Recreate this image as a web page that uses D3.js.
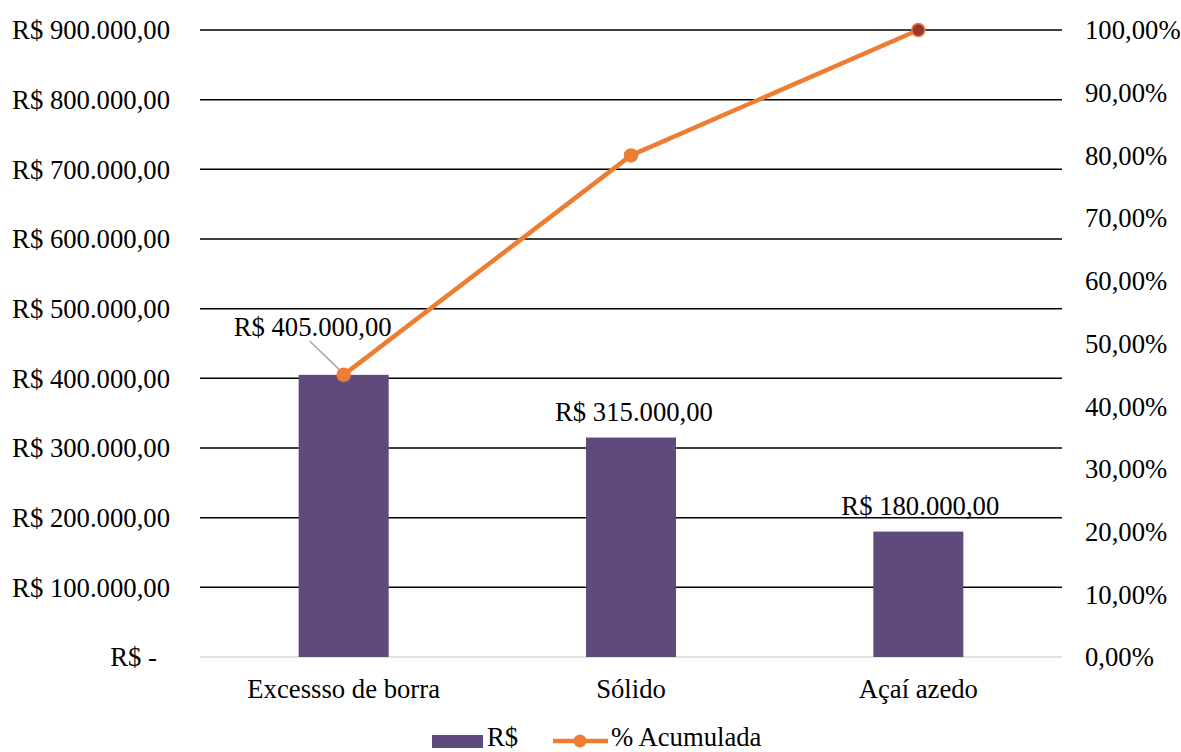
<!DOCTYPE html>
<html>
<head>
<meta charset="utf-8">
<script src="https://cdn.jsdelivr.net/npm/d3@7"></script>
<style>
  html, body { margin: 0; padding: 0; background: #fff; }
  svg text { font-family: "Liberation Serif", "Times New Roman", serif; fill: #000; }
</style>
</head>
<body>
<svg id="chart" width="1181" height="752"></svg>
<script>
// Pareto data
const categories = ["Excessso de borra", "Sólido", "Açaí azedo"];
const values = [405000, 315000, 180000];
const cumulative = [0.45, 0.80, 1.00];
const leftTicks = [0, 100000, 200000, 300000, 400000, 500000, 600000, 700000, 800000, 900000];
const rightTicks = [0, 0.1, 0.2, 0.3, 0.4, 0.5, 0.6, 0.7, 0.8, 0.9, 1.0];
const seriesNames = ["R$", "% Acumulada"];

const svg = d3.select("#chart");
const m = { left: 200, right: 1062, top: 30, bottom: 657 };

const x = d3.scaleBand().domain(categories).range([m.left, m.right]).paddingInner(0).paddingOuter(0);
const yL = d3.scaleLinear().domain([0, 900000]).range([m.bottom, m.top]);
const yR = d3.scaleLinear().domain([0, 1]).range([m.bottom, m.top]);

const barColor = "#604A7B";
const lineColor = "#ED7D31";
const fontSize = 26.7;

const locale = d3.formatLocale({ decimal: ",", thousands: ".", grouping: [3], currency: ["R$ ", ""] });
const fmtNum = locale.format(",.2f");
const fmtMoney = v => v === 0 ? "R$ -" : "R$ " + fmtNum(v);
const fmtPct = v => locale.format(".2f")(v * 100) + "%";

// gridlines
svg.append("g").selectAll("line").data(leftTicks.filter(d => d > 0)).join("line")
  .attr("x1", m.left).attr("x2", m.right)
  .attr("y1", d => yL(d)).attr("y2", d => yL(d))
  .attr("stroke", "#000").attr("stroke-width", 1.5);

// baseline
svg.append("line").attr("x1", m.left).attr("x2", m.right)
  .attr("y1", yL(0)).attr("y2", yL(0))
  .attr("stroke", "#d9d9d9").attr("stroke-width", 1.5);

// left axis labels
svg.append("g").selectAll("text").data(leftTicks).join("text")
  .attr("x", d => d === 0 ? 157 : 170)
  .attr("y", d => yL(d))
  .attr("dy", "0.35em")
  .attr("text-anchor", "end")
  .attr("font-size", fontSize)
  .text(fmtMoney);

// right axis labels
svg.append("g").selectAll("text").data(rightTicks).join("text")
  .attr("x", 1085)
  .attr("y", d => yR(d))
  .attr("dy", "0.35em")
  .attr("text-anchor", "start")
  .attr("font-size", fontSize)
  .text(fmtPct);

// bars
const barW = 90;
svg.append("g").selectAll("rect").data(values).join("rect")
  .attr("x", (d, i) => x(categories[i]) + x.bandwidth() / 2 - barW / 2)
  .attr("width", barW)
  .attr("y", d => yL(d))
  .attr("height", d => yL(0) - yL(d))
  .attr("fill", barColor);

// category labels
svg.append("g").selectAll("text").data(categories).join("text")
  .attr("x", d => x(d) + x.bandwidth() / 2)
  .attr("y", 698)
  .attr("text-anchor", "middle")
  .attr("font-size", fontSize)
  .text(d => d);

// cumulative line
const cx = (d, i) => x(categories[i]) + x.bandwidth() / 2;
const line = d3.line().x(cx).y(d => yR(d));
svg.append("path").datum(cumulative)
  .attr("d", line)
  .attr("fill", "none")
  .attr("stroke", lineColor)
  .attr("stroke-width", 4.5)
  .attr("stroke-linejoin", "round");

// data label leader line for first bar
const c0 = cx(null, 0);
svg.append("line")
  .attr("x1", c0 - 34).attr("y1", 341)
  .attr("x2", c0 - 2).attr("y2", yR(cumulative[0]) - 3)
  .attr("stroke", "#a6a6a6").attr("stroke-width", 1.5);

// line markers
svg.append("g").selectAll("circle").data(cumulative).join("circle")
  .attr("cx", cx)
  .attr("cy", d => yR(d))
  .attr("r", 6.5)
  .attr("fill", (d, i) => i === cumulative.length - 1 ? "#953735" : lineColor)
  .attr("stroke", lineColor)
  .attr("stroke-width", 1.5);

// bar value labels
const labelOffsets = [{ dx: -31, y: 336 }, { dx: 3, y: 421 }, { dx: 2, y: 515 }];
svg.append("g").selectAll("text").data(values).join("text")
  .attr("x", (d, i) => cx(d, i) + labelOffsets[i].dx)
  .attr("y", (d, i) => labelOffsets[i].y)
  .attr("text-anchor", "middle")
  .attr("font-size", fontSize)
  .text(d => "R$ " + fmtNum(d));

// legend
const lg = svg.append("g");
lg.append("rect").attr("x", 432).attr("y", 735).attr("width", 51).attr("height", 13).attr("fill", barColor);
lg.append("text").attr("x", 487).attr("y", 746).attr("font-size", fontSize).text(seriesNames[0]);
lg.append("line").attr("x1", 553).attr("x2", 608).attr("y1", 741).attr("y2", 741)
  .attr("stroke", lineColor).attr("stroke-width", 4.5);
lg.append("circle").attr("cx", 580).attr("cy", 741).attr("r", 6.5).attr("fill", lineColor);
lg.append("text").attr("x", 611).attr("y", 746).attr("font-size", fontSize).text(seriesNames[1]);
</script>
</body>
</html>
